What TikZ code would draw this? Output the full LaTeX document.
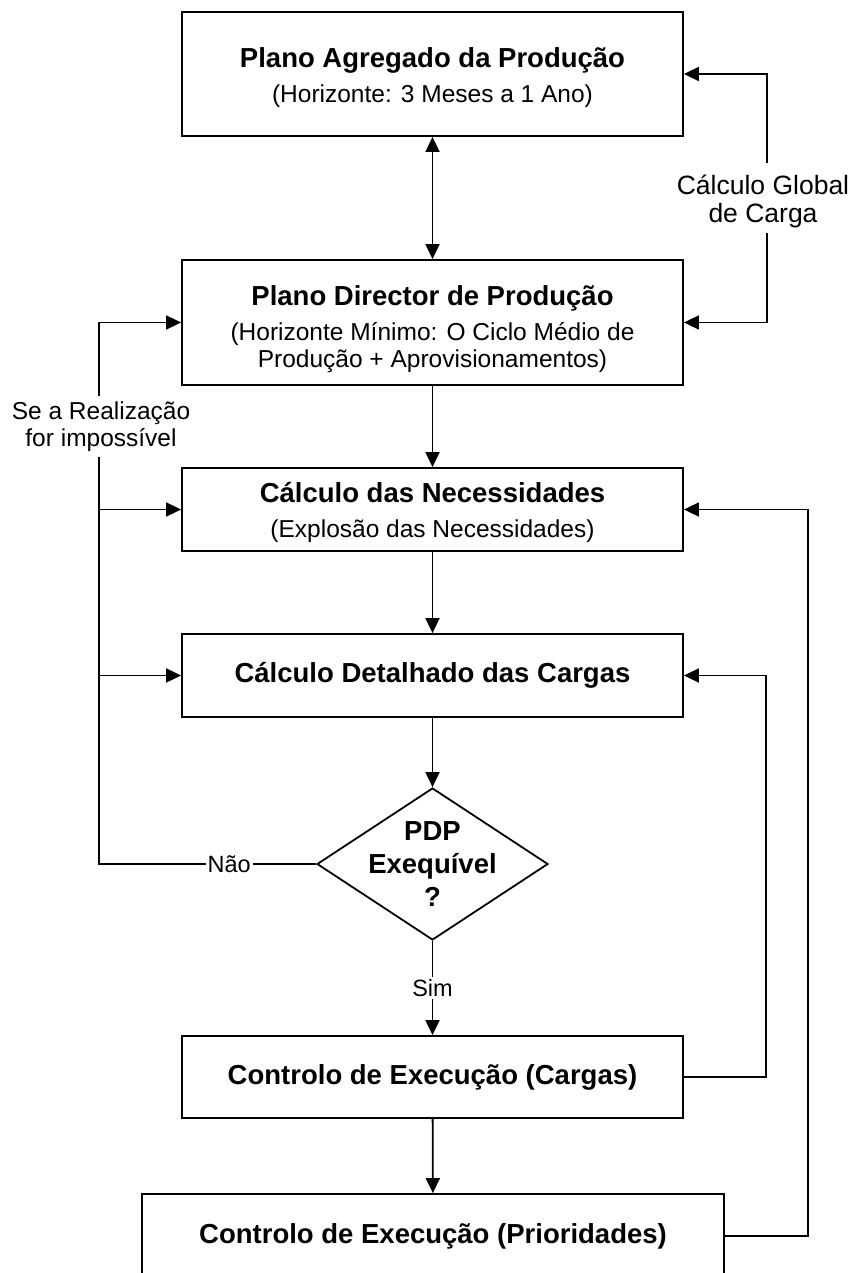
\documentclass[tikz,border=0pt]{standalone}
\usepackage{fontspec}
\setmainfont{Liberation Sans}
\usetikzlibrary{arrows.meta,shapes.geometric}

\newcommand{\lift}[1]{\rule{0pt}{#1}}

\begin{document}
\begin{tikzpicture}[x=1pt,y=-1pt,
  line width=1.8pt,
  box/.style={draw, rectangle, inner sep=0pt, align=center,
    font=\fontsize{24.5}{27}\selectfont},
  arr/.style={-{Triangle[length=15pt,width=14pt]}},
  dbl/.style={{Triangle[length=15pt,width=14pt]}-{Triangle[length=15pt,width=14pt]}},
  lbl/.style={fill=white, inner sep=2pt, font=\fontsize{23.5}{27}\selectfont},
  side/.style={align=center, inner sep=0pt}
]
\useasboundingbox (0,0) rectangle (859,1273);
\fill[white] (0,0) rectangle (859,1273);

% process boxes
\node[box, minimum width=501pt, minimum height=124pt] (pap) at (432.5,74)
  {\lift{28pt}{\bfseries\fontsize{27.5}{27}\selectfont Plano Agregado da Produção}\\[8pt]
   (Horizonte: 3 Meses a 1 Ano)};
\node[box, minimum width=501pt, minimum height=125pt] (pdp) at (432.5,322.5)
  {\lift{33pt}{\bfseries\fontsize{27.5}{27}\selectfont Plano Director de Produção}\\[8pt]
   (Horizonte Mínimo: O Ciclo Médio de\\
   Produção + Aprovisionamentos)};
\node[box, minimum width=501pt, minimum height=83pt] (nec) at (432.5,509.5)
  {\lift{26pt}{\bfseries\fontsize{27.5}{27}\selectfont Cálculo das Necessidades}\\[8pt]
   (Explosão das Necessidades)};
\node[box, minimum width=501pt, minimum height=83pt] (cdc) at (432.5,675.5)
  {\bfseries\fontsize{27.5}{27}\selectfont Cálculo Detalhado das Cargas};

% decision
\node[draw, diamond, minimum width=231pt, minimum height=152pt, aspect=1.52,
  inner sep=0pt] (dec) at (432.5,864) {};
\node[align=center, inner sep=0pt, font=\bfseries\fontsize{27.5}{33}\selectfont]
  (dectxt) at (dec) {PDP\\Exequível\\?};

\node[box, minimum width=501pt, minimum height=82pt] (cec) at (432.5,1077)
  {\bfseries\fontsize{27.5}{27}\selectfont Controlo de Execução (Cargas)};
\node[box, minimum width=582pt, minimum height=84pt] (cep) at (433,1236)
  {\bfseries\fontsize{27.5}{27}\selectfont Controlo de Execução (Prioridades)};

% side labels
\node[side, font=\fontsize{26.5}{28}\selectfont] (glob) at (763,201)
  {Cálculo Global\\de Carga};
\node[side, font=\fontsize{24.5}{27}\selectfont] (imp) at (101,427)
  {Se a Realização\\for impossível};

\coordinate (rt) at (767,163);
\coordinate (rb) at (767,233);
\coordinate (lt) at (99,396);
\coordinate (lb) at (99,457);
\coordinate (r1) at (766,0);
\coordinate (r2) at (808,0);

% main flow
\draw[dbl] (pap.south) -- (pdp.north);
\draw[arr] (pdp) -- (nec);
\draw[arr] (nec) -- (cdc);
\draw[arr] (cdc) -- (dec.north);
\draw[arr] (dec.south) -- node[lbl, pos=0.5] {Sim} (cec.north);
\draw[arr] (cec) -- (cep);

% global load check
\draw[arr] (rt) |- (pap.east);
\draw[arr] (rb) |- (pdp.east);

% infeasible plan feedback
\draw (dec.west) -- node[lbl, pos=0.4] {Não} (dec.west -| lb) -- (lb);
\draw[arr] (lt) |- (pdp.west);
\draw[arr] (lb |- nec.west) -- (nec.west);
\draw[arr] (lb |- cdc.west) -- (cdc.west);

% execution control feedback
\draw[arr] (cec.east) -| (r1 |- cdc.east) -- (cdc.east);
\draw[arr] (cep.east) -| (r2 |- nec.east) -- (nec.east);
\end{tikzpicture}
\end{document}
